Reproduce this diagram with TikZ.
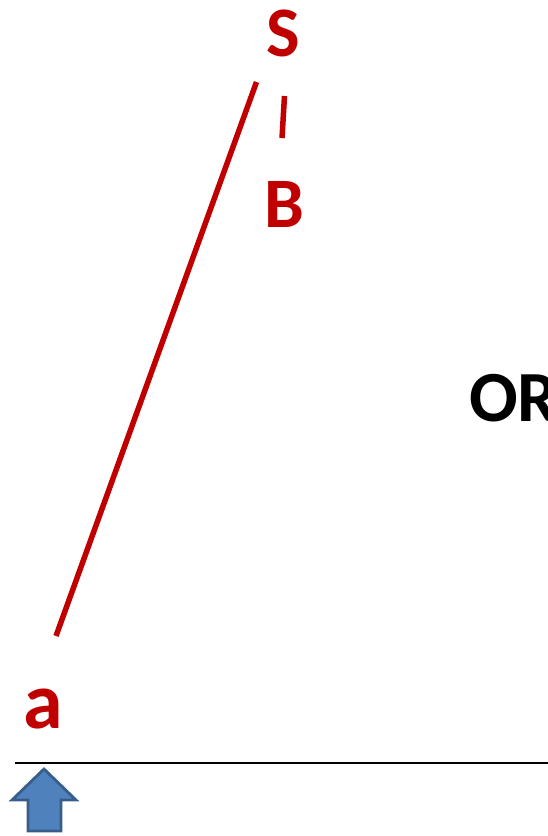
\documentclass[tikz,border=0pt]{standalone}
\usepackage{fontspec}
\setmainfont{Carlito}
\definecolor{darkred}{HTML}{C00000}
\definecolor{arrfill}{HTML}{4F81BD}
\definecolor{arrdraw}{HTML}{385D8A}
\begin{document}
\begin{tikzpicture}[x=1pt,y=-1pt,
  lbl/.style={font=\fontsize{71}{80}\selectfont\bfseries, text=darkred, inner sep=0pt, anchor=base},
  redline/.style={draw=darkred, line width=5.5pt}]
\useasboundingbox (0,0) rectangle (548,836);
\clip (0,0) rectangle (548,836);
\node[lbl] (S) at (283.5,56) {S};
\node[lbl] (B) at (284.5,227) {B};
\node[lbl, font=\fontsize{80}{90}\selectfont\bfseries] (a) at (43,728) {a};
\node[inner sep=0pt, anchor=base west, font=\fontsize{72}{80}\selectfont\bfseries] (OR) at (469,421) {OR};
\coordinate (l1) at (256.5,82);
\coordinate (l2) at (56,636);
\draw[redline] (l1) -- (l2);
\coordinate (m1) at (284.5,96);
\coordinate (m2) at (282,138);
\draw[redline] (m1) -- (m2);
\coordinate (h1) at (15,763);
\coordinate (h2) at (548,763);
\draw[line width=1.8pt] (h1) -- (h2);
\draw[fill=arrfill, draw=arrdraw, line width=2.8pt, line join=miter]
  (44,769) -- (76,800) -- (61,800) -- (61,831) -- (28,831) -- (28,800) -- (12,800) -- cycle;
\end{tikzpicture}
\end{document}
